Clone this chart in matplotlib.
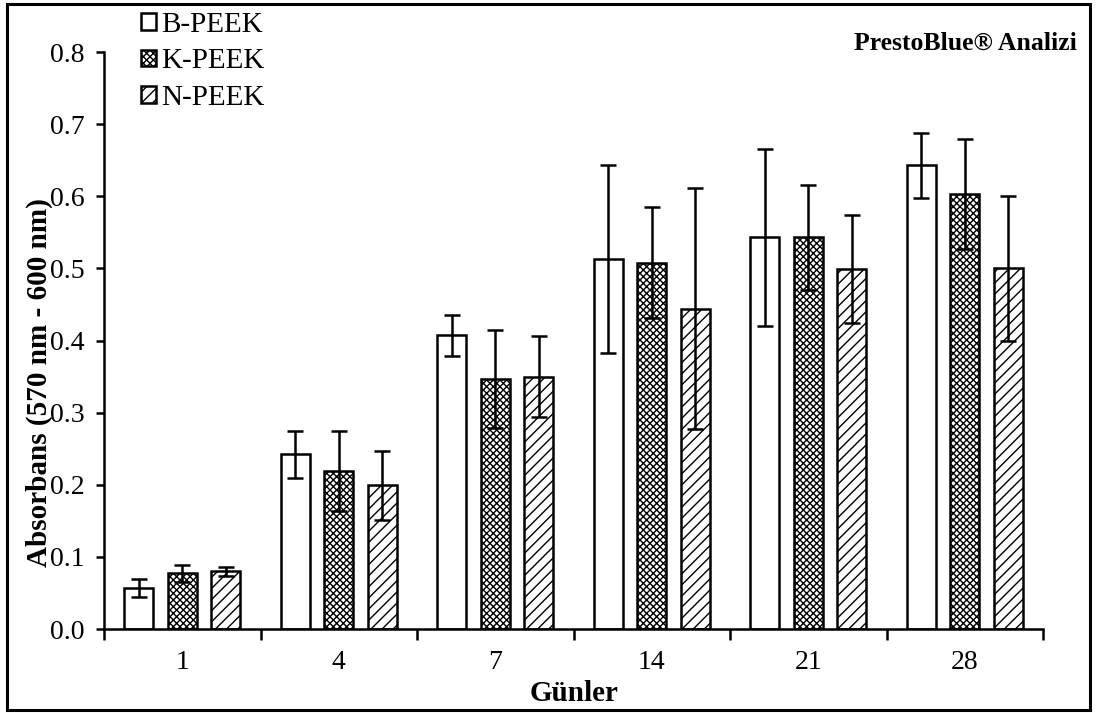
import numpy as np
import matplotlib
matplotlib.use("Agg")
import matplotlib.pyplot as plt
from matplotlib.patches import Rectangle

plt.rcParams["font.family"] = ["Liberation Serif", "DejaVu Serif"]
plt.rcParams["hatch.linewidth"] = 1.0

# Days of culture
days = ["1", "4", "7", "14", "21", "28"]

# Mean absorbance per material
b_peek = [0.057, 0.242, 0.407, 0.513, 0.543, 0.643]
k_peek = [0.077, 0.219, 0.347, 0.508, 0.543, 0.603]
n_peek = [0.080, 0.199, 0.350, 0.444, 0.499, 0.500]

# Standard deviations
b_err = [0.012, 0.032, 0.028, 0.130, 0.123, 0.045]
k_err = [0.012, 0.056, 0.068, 0.077, 0.073, 0.076]
n_err = [0.006, 0.048, 0.056, 0.167, 0.075, 0.100]

series = [
    ("B-PEEK", b_peek, b_err, ""),
    ("K-PEEK", k_peek, k_err, "xxxxx"),
    ("N-PEEK", n_peek, n_err, "///"),
]

fig = plt.figure(figsize=(10.97, 7.13), dpi=100)
ax = fig.add_axes([0.0948, 0.1178, 0.8560, 0.8092])

x = np.arange(len(days))
width = 0.185
offset = 0.277

handles = []
for i, (name, vals, errs, hatch) in enumerate(series):
    pos = x + (i - 1) * offset
    bars = ax.bar(pos, vals, width, color="white", edgecolor="black",
                  linewidth=1.8, hatch=hatch, label=name, zorder=2)
    ax.errorbar(pos, vals, yerr=errs, fmt="none", ecolor="black",
                elinewidth=1.8, capsize=6, capthick=1.8, zorder=3)
    handles.append(bars)

ax.set_xlim(-0.5, len(days) - 0.5)
ax.set_ylim(0, 0.8)
ax.set_yticks(np.arange(0, 0.81, 0.1))
ax.set_yticklabels([f"{v:.1f}" for v in np.arange(0, 0.81, 0.1)], fontsize=20)

# Category labels centred, ticks at category boundaries
ax.set_xticks(x)
ax.set_xticklabels(days, fontsize=20)
ax.tick_params(axis="x", which="major", length=0, pad=15)
ax.set_xticks(np.arange(-0.5, len(days) + 0.5, 1.0), minor=True)
ax.tick_params(axis="x", which="minor", length=8, width=1.8, direction="out")
ax.tick_params(axis="y", length=6, width=1.8, direction="out", pad=8)

for side in ("top", "right"):
    ax.spines[side].set_visible(False)
for side in ("left", "bottom"):
    ax.spines[side].set_linewidth(1.8)

fig.text(0.036, 0.464, "Absorbans (570 nm - 600 nm)", rotation=90,
         fontsize=21, fontweight="bold", ha="center", va="center")
fig.text(0.523, 0.028, "Günler", fontsize=21, fontweight="bold",
         ha="center", va="center")
fig.text(0.982, 0.939, "PrestoBlue® Analizi", fontsize=18.5,
         fontweight="bold", ha="right", va="center")

leg = fig.legend(handles=handles, loc="upper left",
                 bbox_to_anchor=(0.118, 1.0), frameon=False, fontsize=21,
                 handlelength=0.5, handleheight=0.5, handletextpad=0.2,
                 labelspacing=0.36, borderaxespad=0)

# Frame around the whole figure
fig.patches.append(Rectangle((0.006, 0.004), 0.988, 0.991,
                             transform=fig.transFigure, fill=False,
                             edgecolor="black", linewidth=2.2))

fig.savefig("out.png", dpi=100)
